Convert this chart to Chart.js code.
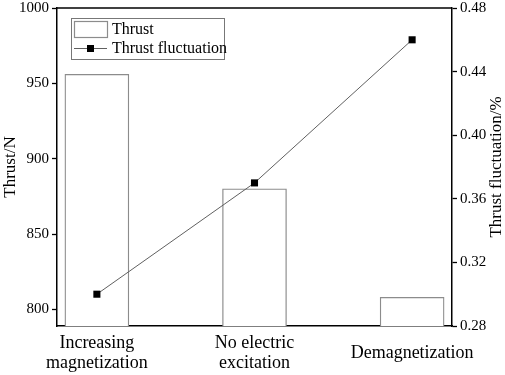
<!DOCTYPE html>
<html>
<head>
<meta charset="utf-8">
<script src="https://cdn.jsdelivr.net/npm/chart.js@4.4.0/dist/chart.umd.min.js"></script>
<style>
html,body{margin:0;padding:0;background:#fff;}
#wrap{width:505px;height:375px;position:relative;}
</style>
</head>
<body>
<div id="wrap"><canvas id="c"></canvas></div>
<script>
// ---- data ----
const categories = [["Increasing","magnetization"], ["No electric","excitation"], "Demagnetization"];
const thrust = [956, 880, 808];
const thrustFluctuation = [0.30, 0.37, 0.46];
const thrustTicks = [800, 850, 900, 950, 1000];
const fluctuationTicks = [0.28, 0.32, 0.36, 0.40, 0.44, 0.48];
const seriesNames = ["Thrust", "Thrust fluctuation"];
const axisTitles = {left: "Thrust/N", right: "Thrust fluctuation/%"};

Chart.defaults.font.family = "'Liberation Serif', 'Times New Roman', serif";
Chart.defaults.color = "#000";

const FONT = "'Liberation Serif', 'Times New Roman', serif";

const framePlugin = {
  id: 'frame',
  afterDraw(chart) {
    const {ctx, chartArea: a} = chart;
    ctx.save();
    // top border
    ctx.strokeStyle = '#000';
    ctx.lineWidth = 1.5;
    ctx.beginPath();
    ctx.moveTo(a.left, a.top);
    ctx.lineTo(a.right, a.top);
    ctx.stroke();

    // right axis title, reading bottom to top
    ctx.fillStyle = '#000';
    ctx.font = "17px " + FONT;
    ctx.textAlign = 'center';
    ctx.textBaseline = 'middle';
    ctx.translate(chart.width - 8, (a.top + a.bottom) / 2);
    ctx.rotate(-Math.PI / 2);
    ctx.fillText(axisTitles.right, 0, 0);
    ctx.restore();

    // legend
    const ds0 = chart.data.datasets[0], ds1 = chart.data.datasets[1];
    const lx = a.left + 14, ly = a.top + 10, lw = 153, lh = 41;
    ctx.save();
    ctx.strokeStyle = '#777';
    ctx.lineWidth = 1;
    ctx.fillStyle = '#fff';
    ctx.fillRect(lx, ly, lw, lh);
    ctx.strokeRect(lx + 0.5, ly + 0.5, lw, lh);
    // bar swatch
    ctx.strokeStyle = ds0.borderColor;
    ctx.lineWidth = 1.2;
    ctx.strokeRect(lx + 3.5, ly + 3.5, 33, 16);
    // line swatch
    const sy = ly + 30.5;
    ctx.strokeStyle = ds1.borderColor;
    ctx.lineWidth = 1;
    ctx.beginPath();
    ctx.moveTo(lx + 3, sy);
    ctx.lineTo(lx + 36, sy);
    ctx.stroke();
    ctx.fillStyle = '#000';
    ctx.fillRect(lx + 16, sy - 3.5, 7, 7);
    // texts
    ctx.font = "16px " + FONT;
    ctx.textAlign = 'left';
    ctx.textBaseline = 'middle';
    ctx.fillText(ds0.label, lx + 41, ly + 12);
    ctx.fillText(ds1.label, lx + 41, sy);
    ctx.restore();
  }
};

function noOverhang(scale) {
  scale.paddingTop = 0;
  scale.paddingBottom = 0;
}

new Chart(document.getElementById('c'), {
  data: {
    datasets: [
      {
        type: 'bar',
        label: seriesNames[0],
        data: thrust.map((v, i) => ({x: i, y: v})),
        yAxisID: 'y',
        xAxisID: 'x',
        backgroundColor: '#fff',
        borderColor: '#8c8c8c',
        borderWidth: 1.3,
        barThickness: 64,
        order: 2
      },
      {
        type: 'line',
        label: seriesNames[1],
        data: thrustFluctuation.map((v, i) => ({x: i, y: v})),
        yAxisID: 'y2',
        xAxisID: 'x',
        borderColor: '#606060',
        borderWidth: 1,
        pointStyle: 'rect',
        pointRadius: 5,
        pointBackgroundColor: '#000',
        pointBorderColor: '#000',
        pointBorderWidth: 0,
        tension: 0,
        order: 1
      }
    ]
  },
  options: {
    responsive: true,
    maintainAspectRatio: false,
    animation: false,
    devicePixelRatio: 1,
    layout: {padding: {top: 8, left: 0, right: 0, bottom: 0}},
    plugins: {legend: {display: false}, tooltip: {enabled: false}},
    scales: {
      x: {
        type: 'linear',
        position: 'bottom',
        offset: false,
        min: -0.253,
        max: 2.253,
        afterBuildTicks(scale) { scale.ticks = categories.map((c, i) => ({value: i})); },
        afterFit(scale) { scale.height = 49; scale.paddingLeft = 0; scale.paddingRight = 0; },
        ticks: {
          autoSkip: false,
          maxRotation: 0,
          minRotation: 0,
          crossAlign: 'center',
          padding: 9,
          font: {size: 18, lineHeight: 1.12},
          callback(value) { return categories[value]; }
        },
        grid: {display: false},
        border: {display: true, color: '#000', width: 1.5}
      },
      y: {
        type: 'linear',
        position: 'left',
        min: 789,
        max: 1000,
        afterBuildTicks(scale) { scale.ticks = thrustTicks.map(v => ({value: v})); },
        afterFit(scale) { scale.width = 57; noOverhang(scale); },
        ticks: {font: {size: 15}, padding: 3, callback(v) { return String(v); }},
        grid: {drawOnChartArea: false, tickLength: 5, color: '#000', tickWidth: 1.3},
        border: {display: true, color: '#000', width: 1.5},
        title: {display: true, text: axisTitles.left, font: {size: 17}, padding: {top: 0, bottom: 0}}
      },
      y2: {
        type: 'linear',
        position: 'right',
        min: 0.28,
        max: 0.48,
        afterBuildTicks(scale) { scale.ticks = fluctuationTicks.map(v => ({value: v})); },
        afterFit(scale) { scale.width = 53; noOverhang(scale); },
        ticks: {font: {size: 15}, padding: 3, callback(v) { return v.toFixed(2); }},
        grid: {drawOnChartArea: false, tickLength: 5, color: '#000', tickWidth: 1.3},
        border: {display: true, color: '#000', width: 1.5}
      }
    }
  },
  plugins: [framePlugin]
});
</script>
</body>
</html>
